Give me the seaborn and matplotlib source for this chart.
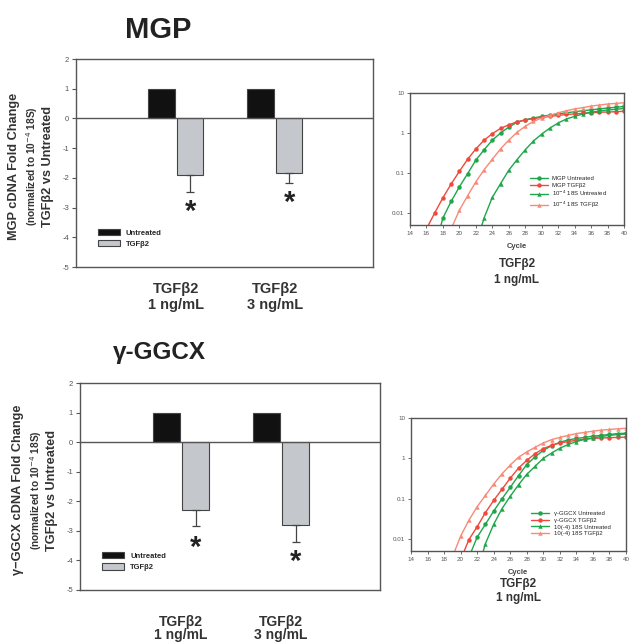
import matplotlib
matplotlib.use("Agg")
import matplotlib.pyplot as plt
import seaborn as sns
import pandas as pd
import numpy as np

# bar chart data
groups = ["TGFβ2\n1 ng/mL", "TGFβ2\n3 ng/mL"]
treatments = ["Untreated", "TGFβ2"]

mgp_untreated = [1.0, 1.0]
mgp_tgfb2 = [-1.92, -1.84]
mgp_err = [0.55, 0.33]
mgp_star = [-3.15, -2.83]

ggcx_untreated = [1.0, 1.0]
ggcx_tgfb2 = [-2.29, -2.79]
ggcx_err = [0.54, 0.58]
ggcx_star = [-3.58, -4.05]

# amplification curves (value per cycle, from first cycle to 40)
mgp_curves = [
    ("MGP Untreated", 17, [0.0013, 0.0075, 0.0195, 0.045, 0.096, 0.21, 0.38, 0.66, 1.0, 1.4, 1.85, 2.15,
                           2.37, 2.6, 2.8, 3.0, 3.2, 3.4, 3.6, 3.8, 4.0, 4.2, 4.4, 4.6]),
    ("MGP TGFβ2", 16, [0.004, 0.01, 0.024, 0.053, 0.11, 0.22, 0.40, 0.66, 0.96, 1.30, 1.60, 1.90, 2.10,
                       2.30, 2.45, 2.60, 2.75, 2.90, 3.00, 3.10, 3.20, 3.30, 3.35, 3.40, 3.50]),
    ("10$^{-4}$ 18S Untreated", 22, [0.0015, 0.0075, 0.0245, 0.054, 0.117, 0.215, 0.38, 0.63, 0.94, 1.33,
                                     1.78, 2.24, 2.6, 3.0, 3.3, 3.55, 3.75, 3.9, 4.1]),
    ("10$^{-4}$ 18S TGFβ2", 19, [0.004, 0.0117, 0.027, 0.06, 0.12, 0.22, 0.40, 0.66, 1.04, 1.47, 1.95,
                                 2.37, 2.75, 3.2, 3.6, 4.0, 4.3, 4.7, 5.0, 5.3, 5.5, 5.7]),
]
ggcx_curves = [
    ("γ-GGCX Untreated", 21, [0.0035, 0.011, 0.023, 0.049, 0.098, 0.19, 0.37, 0.7, 1.08, 1.58, 2.05, 2.5,
                              2.85, 3.1, 3.3, 3.55, 3.7, 3.9, 4.1, 4.2]),
    ("γ-GGCX TGFβ2", 20, [0.003, 0.0096, 0.02, 0.045, 0.09, 0.17, 0.32, 0.57, 0.89, 1.3, 1.74, 2.1, 2.4,
                          2.6, 2.8, 3.0, 3.1, 3.2, 3.25, 3.3, 3.35]),
    ("10(-4) 18S Untreated", 22, [0.0015, 0.0076, 0.023, 0.056, 0.114, 0.22, 0.4, 0.63, 1.0, 1.35, 1.78,
                                  2.2, 2.6, 2.95, 3.2, 3.5, 3.7, 3.9, 4.0]),
    ("10(-4) 18S TGFβ2", 19, [0.0035, 0.0117, 0.029, 0.063, 0.12, 0.23, 0.41, 0.68, 1.06, 1.44, 1.87, 2.4,
                              2.9, 3.3, 3.7, 4.1, 4.4, 4.7, 5.0, 5.2, 5.4, 5.55]),
]
curve_styles = [("#1fa64a", "o"), ("#f0483c", "o"), ("#1fa64a", "^"), ("#f78a78", "^")]

sns.set_theme(style="white")
plt.rcParams["font.family"] = ["Liberation Sans", "DejaVu Sans"]
plt.rcParams["axes.edgecolor"] = "#555555"
plt.rcParams["axes.unicode_minus"] = False

fig = plt.figure(figsize=(6.34, 6.44), dpi=100)


def bar_panel(rect, untreated, tgfb2, err, star, label_pad, label_size, label_spacing):
    ax = fig.add_axes(rect)
    df = pd.DataFrame({
        "group": groups * 2,
        "treatment": [treatments[0]] * 2 + [treatments[1]] * 2,
        "value": untreated + tgfb2,
    })
    sns.barplot(data=df, x="group", y="value", hue="treatment", hue_order=treatments,
                palette={"Untreated": "#111111", "TGFβ2": "#c3c7cc"}, width=0.585, gap=0.1,
                edgecolor="#444444", linewidth=0.8, errorbar=None, ax=ax)
    # gray bars come after the black ones
    gray = ax.patches[2:4]
    xs = [p.get_x() + p.get_width() / 2 for p in gray]
    ax.errorbar(xs, tgfb2, yerr=[err, [0, 0]], fmt="none", ecolor="#444444",
                elinewidth=0.9, capsize=3, capthick=0.9)
    for x, y in zip(xs, star):
        ax.text(x, y, "*", ha="center", va="center", fontsize=21, fontweight="bold", color="#222222")
    ax.axhline(0, color="#555555", lw=1)
    ax.set_xlim(-1.01, 1.99)
    ax.set_ylim(-5, 2)
    ax.set_yticks(range(-5, 3))
    ax.tick_params(axis="y", labelsize=5.5, labelcolor="#555555", length=3, width=0.8,
                   color="#555555", left=True, direction="out", pad=2)
    ax.tick_params(axis="x", length=0, pad=label_pad)
    for lab in ax.get_xticklabels():
        lab.set_fontsize(label_size)
        lab.set_fontweight("bold")
        lab.set_color("#333333")
        lab.set_linespacing(label_spacing)
    ax.set_xlabel("")
    ax.set_ylabel("")
    for s in ax.spines.values():
        s.set_linewidth(1)
    ax.legend(loc="lower left", bbox_to_anchor=(0.05, 0.06), frameon=False,
              handlelength=2.9, handleheight=1.0, labelspacing=0.4, prop={"weight": "bold", "size": 5.5})
    return ax


def curve_panel(rect, curves):
    ax = fig.add_axes(rect)
    for (name, start, vals), (col, mk) in zip(curves, curve_styles):
        cyc = list(range(start, start + len(vals)))
        sns.lineplot(x=cyc, y=vals, color=col, marker=mk, markersize=3.2, markeredgewidth=0,
                     linewidth=1.0, label=name, ax=ax)
    ax.set_yscale("log")
    ax.set_ylim(0.005, 10)
    ax.set_xlim(14, 40)
    ax.set_xticks(range(14, 41, 2))
    ax.set_yticks([0.01, 0.1, 1, 10])
    ax.set_yticklabels(["0.01", "0.1", "1", "10"])
    ax.minorticks_off()
    ax.tick_params(labelsize=4.5, labelcolor="#555555", length=2, width=0.6, color="#555555",
                   left=True, bottom=True, direction="out", pad=2)
    for s in ax.spines.values():
        s.set_linewidth(1)
    ax.legend(loc="lower left", bbox_to_anchor=(0.54, 0.08), frameon=False, fontsize=4.3,
              handlelength=3.0, labelspacing=0.25, borderpad=0.2)
    return ax


def fx(px):
    return px / 634


def fy(py):
    return 1 - py / 644


# MGP block
fig.text(fx(158), fy(30), "MGP", ha="center", va="center", fontsize=21, fontweight="bold", color="#222222")
bar_panel([fx(76), fy(267), fx(297), 208 / 644], mgp_untreated, mgp_tgfb2, mgp_err, mgp_star, 11, 10.5, 1.15)
fig.text(fx(14), fy(166), "MGP cDNA Fold Change", rotation=90, ha="center", va="center",
         fontsize=9.2, fontweight="bold", color="#333333")
fig.text(fx(32), fy(166), "(normalized to 10$^{-4}$ 18S)", rotation=90, ha="center", va="center",
         fontsize=7.3, fontweight="bold", color="#333333")
fig.text(fx(48), fy(166), "TGFβ2 vs Untreated", rotation=90, ha="center", va="center",
         fontsize=9.2, fontweight="bold", color="#333333")
curve_panel([fx(410), fy(225), fx(214), 132 / 644], mgp_curves)
fig.text(fx(517), fy(247), "Cycle", ha="center", va="center", fontsize=5.5, fontweight="bold", color="#444444")
fig.text(fx(517), fy(264), "TGFβ2", ha="center", va="center", fontsize=8.5, fontweight="bold", color="#333333")
fig.text(fx(517), fy(280), "1 ng/mL", ha="center", va="center", fontsize=8.5, fontweight="bold", color="#333333")

# gamma-GGCX block
fig.text(fx(159), fy(352), "γ-GGCX", ha="center", va="center", fontsize=17.5, fontweight="bold", color="#222222")
bar_panel([fx(80), fy(590), fx(300), 207 / 644], ggcx_untreated, ggcx_tgfb2, ggcx_err, ggcx_star, 18, 10, 0.95)
fig.text(fx(18), fy(490), "γ−GGCX cDNA Fold Change", rotation=90, ha="center", va="center",
         fontsize=9.2, fontweight="bold", color="#333333")
fig.text(fx(36), fy(490), "(normalized to 10$^{-4}$ 18S)", rotation=90, ha="center", va="center",
         fontsize=7.3, fontweight="bold", color="#333333")
fig.text(fx(52), fy(490), "TGFβ2 vs Untreated", rotation=90, ha="center", va="center",
         fontsize=9.2, fontweight="bold", color="#333333")
curve_panel([fx(411), fy(551), fx(215), 133 / 644], ggcx_curves)
fig.text(fx(518), fy(572), "Cycle", ha="center", va="center", fontsize=5.5, fontweight="bold", color="#444444")
fig.text(fx(518), fy(584), "TGFβ2", ha="center", va="center", fontsize=8.5, fontweight="bold", color="#333333")
fig.text(fx(518), fy(598), "1 ng/mL", ha="center", va="center", fontsize=8.5, fontweight="bold", color="#333333")

fig.savefig("out.png", dpi=100, facecolor="white")
